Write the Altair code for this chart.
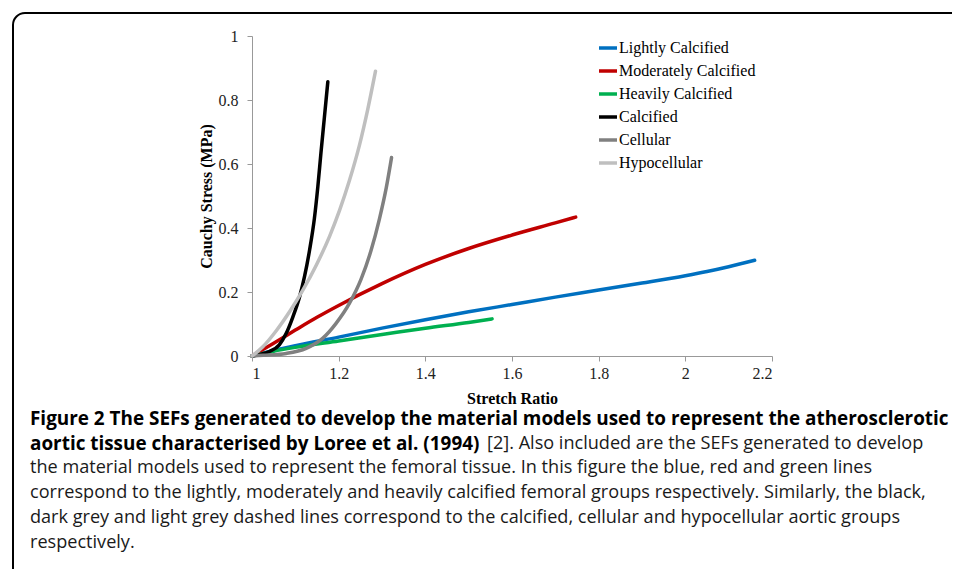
import altair as alt
import pandas as pd

# ---------------- data ----------------
series_names = ["Lightly Calcified", "Moderately Calcified", "Heavily Calcified",
                "Calcified", "Cellular", "Hypocellular"]
series_colors = ["#0070C0", "#C00000", "#00B050", "#000000", "#808080", "#BFBFBF"]

lightly_x = [1.0, 1.05, 1.1, 1.2, 1.3, 1.4, 1.5, 1.6, 1.7, 1.8, 1.9, 2.0, 2.05, 2.1, 2.16]
lightly_y = [0.0, 0.017, 0.032, 0.059, 0.087, 0.113, 0.138, 0.161, 0.184, 0.206, 0.228, 0.251, 0.264, 0.279, 0.299]

moderately_x = [1.0, 1.05, 1.1, 1.15, 1.2, 1.3, 1.4, 1.5, 1.6, 1.7, 1.747]
moderately_y = [0.0, 0.040, 0.081, 0.121, 0.158, 0.226, 0.286, 0.336, 0.378, 0.416, 0.434]

heavily_x = [1.0, 1.05, 1.1, 1.2, 1.3, 1.4, 1.5, 1.554]
heavily_y = [0.0, 0.015, 0.027, 0.047, 0.067, 0.087, 0.105, 0.116]

calcified_x = [1.0, 1.02, 1.04, 1.063, 1.079, 1.094, 1.11, 1.121, 1.133, 1.144, 1.152, 1.159, 1.167, 1.175]
calcified_y = [0.0, 0.005, 0.014, 0.035, 0.071, 0.121, 0.186, 0.247, 0.332, 0.430, 0.530, 0.633, 0.745, 0.857]

cellular_x = [1.0, 1.026, 1.079, 1.125, 1.163, 1.194, 1.225, 1.252, 1.275, 1.294, 1.31, 1.322]
cellular_y = [0.0, 0.002, 0.008, 0.024, 0.055, 0.102, 0.165, 0.241, 0.331, 0.428, 0.527, 0.620]

hypocellular_x = [1.0, 1.025, 1.056, 1.087, 1.117, 1.148, 1.179, 1.202, 1.225, 1.248, 1.267, 1.285]
hypocellular_y = [0.0, 0.029, 0.079, 0.139, 0.205, 0.283, 0.374, 0.455, 0.549, 0.659, 0.770, 0.890]

x_ticks = [1, 1.2, 1.4, 1.6, 1.8, 2, 2.2]
y_ticks = [0, 0.2, 0.4, 0.6, 0.8, 1]

caption_line1 = "Figure 2 The SEFs generated to develop the material models used to represent the atherosclerotic"
caption_line2_bold = "aortic tissue characterised by Loree et al. (1994)"
caption_line2_rest = "[2]. Also included are the SEFs generated to develop"
caption_line3 = "the material models used to represent the femoral tissue. In this figure the blue, red and green lines"
caption_line4 = "correspond to the lightly, moderately and heavily calcified femoral groups respectively. Similarly, the black,"
caption_line5 = "dark grey and light grey dashed lines correspond to the calcified, cellular and hypocellular aortic groups"
caption_line6 = "respectively."

# ---------------- table ----------------
all_x = [lightly_x, moderately_x, heavily_x, calcified_x, cellular_x, hypocellular_x]
all_y = [lightly_y, moderately_y, heavily_y, calcified_y, cellular_y, hypocellular_y]
rows = []
for i, (name, xs, ys) in enumerate(zip(series_names, all_x, all_y)):
    for x, y in zip(xs, ys):
        rows.append({"series": name, "order": i, "stretch": x, "stress": y})
df = pd.DataFrame(rows)

SERIF = "Liberation Serif"
SANS = "Open Sans"

lines = alt.Chart(df).mark_line(strokeWidth=3.5, interpolate="monotone", strokeCap="round").encode(
    x=alt.X("stretch:Q",
            scale=alt.Scale(domain=[1, 2.2], nice=False, zero=False),
            axis=alt.Axis(values=x_ticks, format="~g", title="Stretch Ratio",
                          titleX=260, titleY=42, titleBaseline="middle", titleAlign="center",
                          labelPadding=4)),
    y=alt.Y("stress:Q",
            scale=alt.Scale(domain=[0, 1], nice=False),
            axis=alt.Axis(values=y_ticks, format="~g", title="Cauchy Stress (MPa)",
                          titleX=-46, titleY=160, titleAngle=270, titleBaseline="middle",
                          titleAlign="center", labelPadding=9)),
    color=alt.Color("series:N",
                    scale=alt.Scale(domain=series_names, range=series_colors),
                    legend=alt.Legend(title=None, orient="none", legendX=345, legendY=1,
                                      symbolType="stroke", symbolSize=324, symbolStrokeWidth=3.5,
                                      labelFont=SERIF, labelFontSize=16, labelColor="#000",
                                      labelOffset=0, rowPadding=4, padding=0)),
    order=alt.Order("order:Q"),
)


def text_layer(txt, x, y, bold):
    return alt.Chart(alt.Data(values=[{}])).mark_text(
        text=txt, align="left", baseline="middle", font=SANS,
        fontSize=18.9 if bold else 18.1,
        fontWeight="bold" if bold else "normal",
        color="#000000" if bold else "#1a1a1a",
    ).encode(x=alt.value(x), y=alt.value(y))


cap_x = -222
captions = [
    text_layer(caption_line1, cap_x, 383, True),
    text_layer(caption_line2_bold, cap_x, 408, True),
    text_layer(caption_line2_rest, 235, 408, False),
    text_layer(caption_line3, cap_x, 432, False),
    text_layer(caption_line4, cap_x, 457, False),
    text_layer(caption_line5, cap_x, 482, False),
    text_layer(caption_line6, cap_x, 507, False),
]

border = alt.Chart(alt.Data(values=[{}])).mark_rect(
    fillOpacity=0, stroke="#000000", strokeWidth=2, cornerRadius=12
).encode(x=alt.value(-239), y=alt.value(-23), x2=alt.value(730), y2=alt.value(580))

chart = alt.layer(border, lines, *captions).properties(
    width=520, height=320,
    autosize=alt.AutoSizeParams(type="none"),
    padding={"left": 244, "top": 28, "right": 180, "bottom": 213},
).configure_view(strokeWidth=0).configure_axis(
    grid=False, domainColor="#999999", tickColor="#999999", tickSize=5,
    labelFont=SERIF, labelFontSize=16, labelColor="#222222",
    titleFont=SERIF, titleFontSize=16, titleFontWeight="bold", titleColor="#000000",
)

chart.save("out.html", embed_options={"renderer": "svg", "actions": False})
